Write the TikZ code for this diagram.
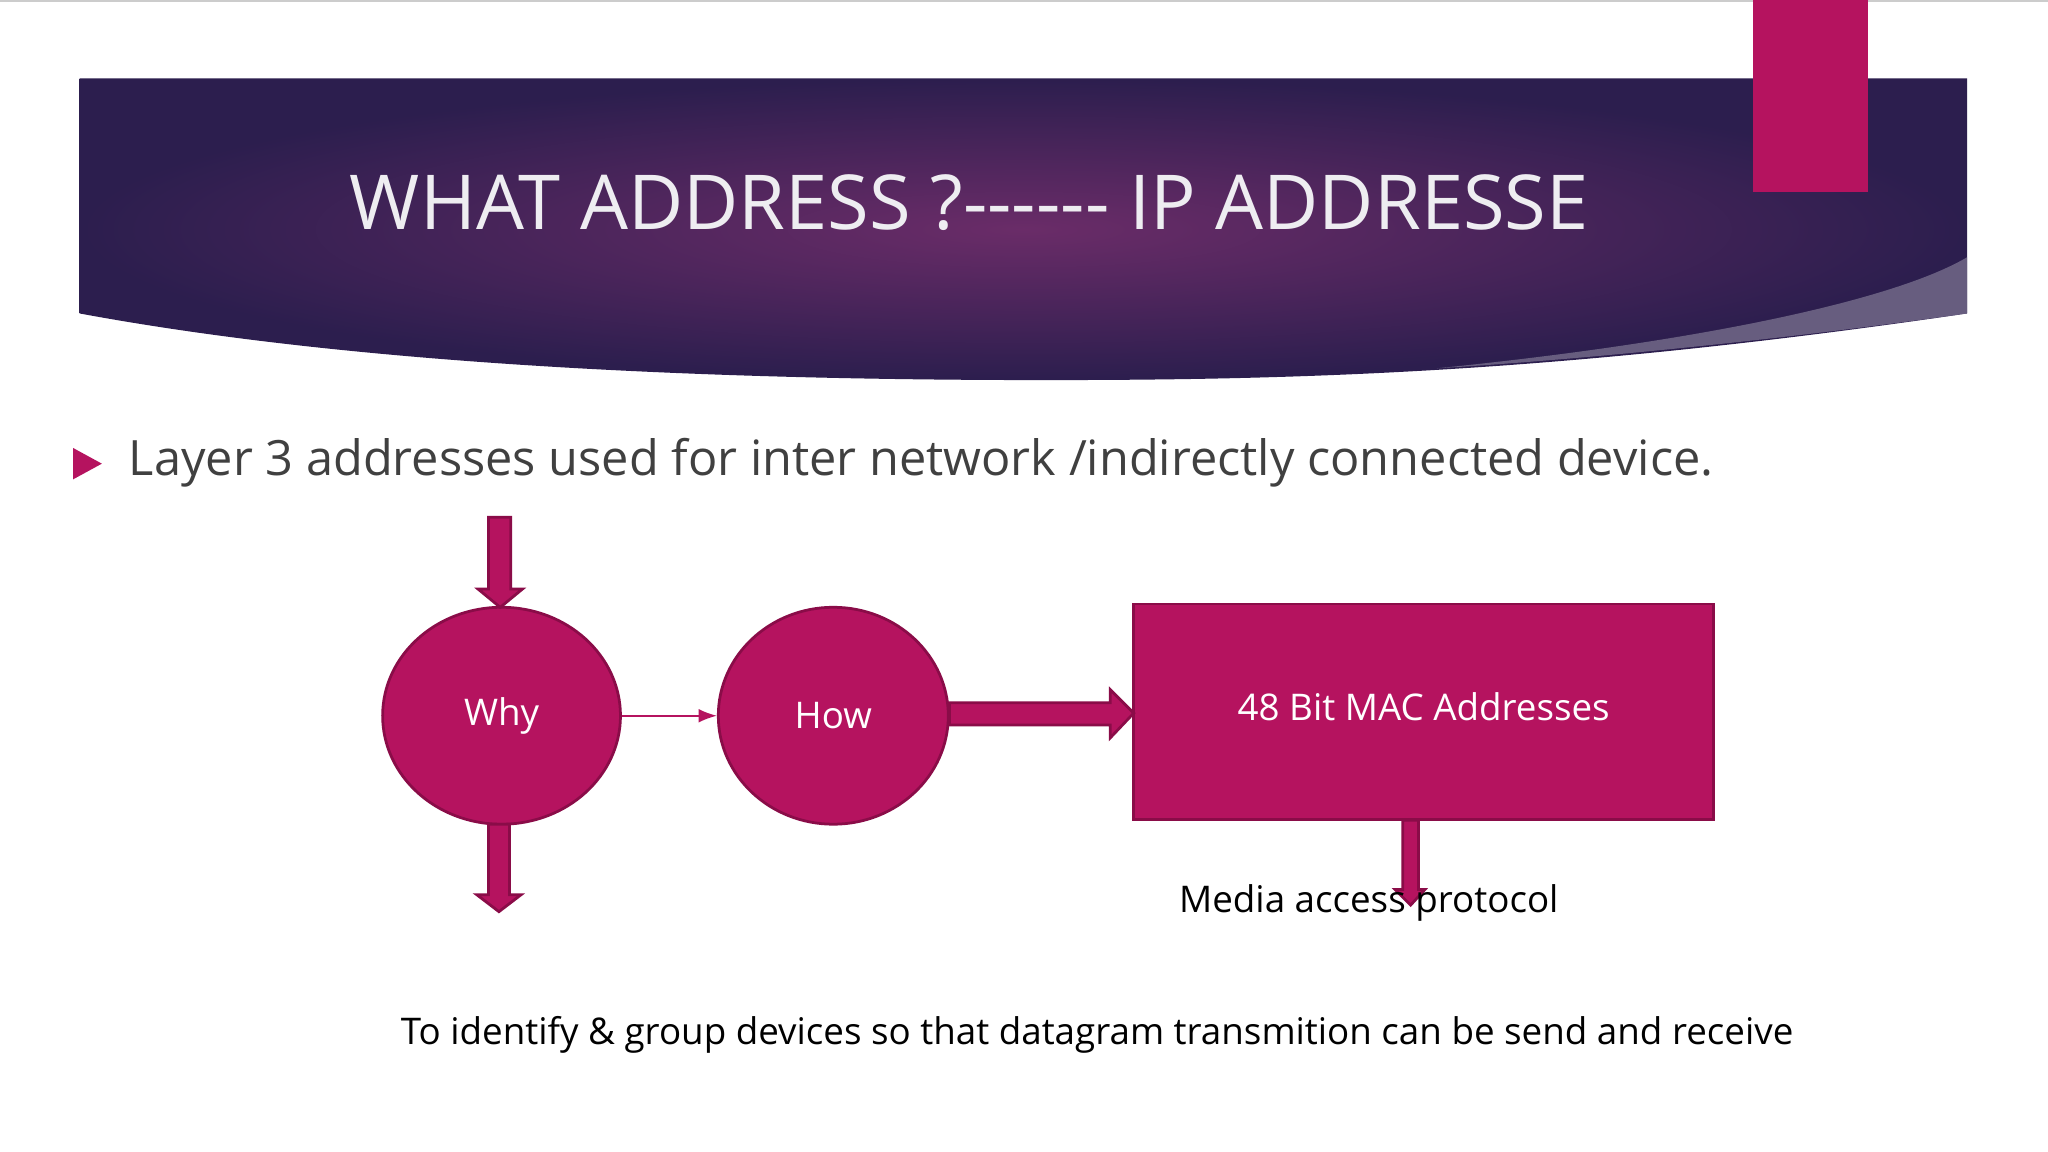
\documentclass[tikz,border=0pt]{standalone}
\usepackage{fontspec}
\setmainfont{Open Sans}
\usetikzlibrary{shapes.geometric,arrows.meta}
\definecolor{mag}{HTML}{B5135F}
\definecolor{magd}{HTML}{8A0C48}
\definecolor{pdark}{HTML}{2C1E4E}
\definecolor{pmid}{HTML}{6A2C68}
\tikzset{blk/.style={fill=mag,draw=magd,line width=0.6pt},
 txt/.style={font=\fontsize{8}{10}\selectfont,text=black}}
\begin{document}
\begin{tikzpicture}[x=0.01cm,y=-0.01cm]
\useasboundingbox (0,0) rectangle (1568,882);
\fill[white] (0,0) rectangle (1568,882);
\draw[gray!40,line width=0.8pt] (0,0) -- (1568,0);
% banner
\shade[inner color=pmid,outer color=pdark] (61,60) -- (1506,60) -- (1506,240) .. controls (1200,285) and (1000,291) .. (800,291) .. controls (500,291) and (250,275) .. (61,240) -- cycle;
\fill[white!35!pdark,opacity=0.8] (1100,282) .. controls (1300,262) and (1450,230) .. (1506,197) -- (1506,240) .. controls (1350,262) and (1200,276) .. (1100,282) -- cycle;
\fill[mag] (1342,0) rectangle (1430,147);
\node[text=white!92!pdark,font=\fontsize{16.5}{20}\selectfont] (title) at (742,155) {WHAT ADDRESS ?{-}{-}{-}{-}{-}{-} IP ADDRESSE};
% bullet
\fill[mag] (56,343) -- (78,355) -- (56,367) -- cycle;
\node[anchor=west,text=black!75,font=\fontsize{10.6}{13}\selectfont,inner sep=0] (bul) at (98,354) {Layer 3 addresses used for inter network /indirectly connected device.};
% shapes
\node[blk,ellipse,minimum width=1.82cm,minimum height=1.66cm,inner sep=0,text=white,font=\fontsize{8}{10}\selectfont] (why) at (384,548) {Why};
\node[blk,ellipse,minimum width=1.76cm,minimum height=1.66cm,inner sep=0,text=white,font=\fontsize{8}{10}\selectfont] (how) at (638,548) {How};
\node[blk,rectangle,minimum width=4.44cm,minimum height=1.65cm,inner sep=0,text=white,font=\fontsize{8}{10}\selectfont] (mac) at (1090,545) {\raisebox{0.08cm}{48 Bit MAC Addresses}};
\draw[mag,-{Latex[length=4pt]}] (why.east) -- (how.west);
% block arrows
\draw[blk] (374,396) -- (391,396) -- (391,451) -- (400,451) -- (383,465) -- (366,451) -- (374,451) -- cycle;
\draw[blk] (374,631) -- (390,631) -- (390,685) -- (399,685) -- (382,698) -- (365,685) -- (374,685) -- cycle;
\draw[blk] (727,538) -- (850,538) -- (850,528) -- (868,546) -- (850,565) -- (850,555) -- (727,555) -- cycle;
\draw[blk] (1074,628) -- (1086,628) -- (1086,681) -- (1091,681) -- (1080,693) -- (1068,681) -- (1074,681) -- cycle;
\node[txt] (mp) at (1048,691) {Media access protocol};
\node[txt] (bt) at (840,792) {To identify \& group devices so that datagram transmition can be send and receive};
\end{tikzpicture}
\end{document}
